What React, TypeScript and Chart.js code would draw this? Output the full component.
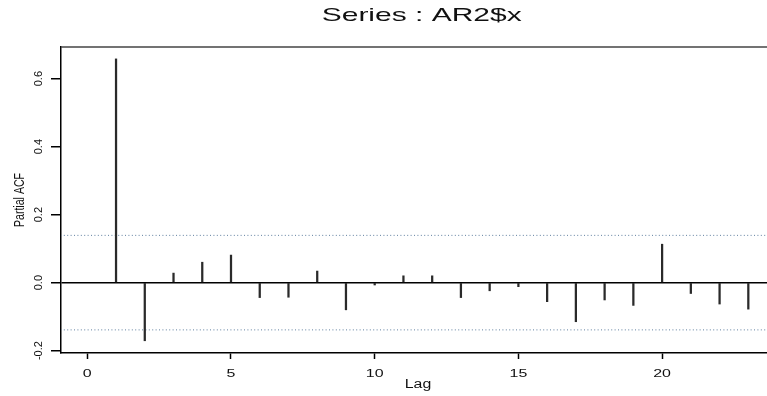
import React, { useEffect, useRef } from "react";
import { Chart, registerables } from "chart.js";

Chart.register(...registerables);

const titleText = "Series : AR2$x";
const xAxisTitle = "Lag";
const yAxisTitle = "Partial ACF";
const lags = [1, 2, 3, 4, 5, 6, 7, 8, 9, 10, 11, 12, 13, 14, 15, 16, 17, 18, 19, 20, 21, 22, 23];
const pacf = [0.658, -0.171, 0.028, 0.06, 0.081, -0.044, -0.043, 0.034, -0.08, -0.007, 0.02, 0.02, -0.044, -0.024, -0.012, -0.056, -0.115, -0.051, -0.067, 0.113, -0.032, -0.063, -0.078];
const ciBound = 0.139;
const xTicks = [0, 5, 10, 15, 20];
const yTicks = [-0.2, 0, 0.2, 0.4, 0.6];
const yTickLabels = ["-0.2", "0.0", "0.2", "0.4", "0.6"];

const FONT = '"Liberation Sans", Arial, Helvetica, sans-serif';

function drawStretched(ctx: CanvasRenderingContext2D, text: string, x: number, y: number, size: number, targetWidth: number | null, sx: number) {
  ctx.save();
  ctx.font = `${size}px ${FONT}`;
  ctx.fillStyle = "#111";
  ctx.textAlign = "center";
  ctx.textBaseline = "alphabetic";
  ctx.translate(x, y);
  let s = sx;
  if (targetWidth) s = targetWidth / ctx.measureText(text).width;
  ctx.scale(s, 1);
  ctx.fillText(text, 0, 0);
  ctx.restore();
}

const textPlugin = {
  id: "rtext",
  afterDraw(chart: any) {
    const ctx = chart.ctx as CanvasRenderingContext2D;
    const area = chart.chartArea;
    const xs = chart.scales.x;
    const ys = chart.scales.y;
    // top frame line
    ctx.save();
    ctx.strokeStyle = "#444";
    ctx.lineWidth = 1.5;
    ctx.beginPath();
    ctx.moveTo(area.left, area.top);
    ctx.lineTo(area.right, area.top);
    ctx.stroke();
    ctx.restore();
    // title
    drawStretched(ctx, titleText, 421.7, 20.7, 18.5, 200, 1);
    // x tick labels
    xTicks.forEach((v) => {
      drawStretched(ctx, String(v), xs.getPixelForValue(v), 376.6, 11, null, 1.45);
    });
    // x axis title
    drawStretched(ctx, xAxisTitle, 418, 387.5, 12.5, 26.5, 1);
    // y tick labels (rotated)
    yTicks.forEach((v, i) => {
      ctx.save();
      ctx.font = `11px ${FONT}`;
      ctx.fillStyle = "#111";
      ctx.textAlign = "center";
      ctx.textBaseline = "alphabetic";
      ctx.translate(41.5, ys.getPixelForValue(v));
      ctx.scale(1.05, 1);
      ctx.rotate(-Math.PI / 2);
      ctx.fillText(yTickLabels[i], 0, 0);
      ctx.restore();
    });
    // y axis title
    ctx.save();
    ctx.font = `10.6px ${FONT}`;
    ctx.fillStyle = "#111";
    ctx.textAlign = "center";
    ctx.textBaseline = "alphabetic";
    ctx.translate(24, (area.top + area.bottom) / 2);
    ctx.scale(1.4, 1);
    ctx.rotate(-Math.PI / 2);
    ctx.fillText(yAxisTitle, 0, 0);
    ctx.restore();
  },
};

export default function App() {
  const ref = useRef<HTMLCanvasElement | null>(null);
  useEffect(() => {
    if (!ref.current) return;
    const chart = new Chart(ref.current, {
      type: "bar",
      data: {
        datasets: [
          {
            type: "bar",
            data: lags.map((l, i) => ({ x: l, y: pacf[i] })),
            backgroundColor: "#2a2a2a",
            borderWidth: 0,
            barThickness: 1.6,
            grouped: false,
          } as any,
          {
            type: "line",
            data: [{ x: -2, y: ciBound }, { x: 30, y: ciBound }],
            borderColor: "#5f7f9f",
            borderWidth: 1,
            borderDash: [1, 2.4],
            pointRadius: 0,
            fill: false,
          } as any,
          {
            type: "line",
            data: [{ x: -2, y: -ciBound }, { x: 30, y: -ciBound }],
            borderColor: "#5f7f9f",
            borderWidth: 1,
            borderDash: [1, 2.4],
            pointRadius: 0,
            fill: false,
          } as any,
        ],
      },
      options: {
        responsive: false,
        animation: false,
        events: [],
        layout: { padding: { top: 47, left: 0, right: 0, bottom: 0 } },
        plugins: { legend: { display: false }, tooltip: { enabled: false }, title: { display: false } },
        scales: {
          x: {
            type: "linear",
            min: -0.915,
            max: 23.65,
            offset: false,
            afterFit: (s: any) => {
              s.height = 43;
            },
            afterBuildTicks: (s: any) => {
              s.ticks = xTicks.map((v) => ({ value: v }));
            },
            ticks: { display: false },
            grid: { offset: false, drawOnChartArea: false, drawTicks: true, tickLength: 6, tickColor: "#000", tickWidth: 1.5 },
            border: { display: true, color: "#000", width: 1.5 },
          },
          y: {
            type: "linear",
            min: -0.207,
            max: 0.693,
            afterFit: (s: any) => {
              s.width = 61;
            },
            afterBuildTicks: (s: any) => {
              s.ticks = yTicks.map((v) => ({ value: v }));
            },
            ticks: { display: false },
            grid: {
              offset: false,
              drawOnChartArea: true,
              drawTicks: true,
              tickLength: 10,
              color: (c: any) => (c.tick && c.tick.value === 0 ? "#000" : "rgba(0,0,0,0)"),
              lineWidth: 1.5,
              tickColor: "#000",
              tickWidth: 1.5,
            },
            border: { display: true, color: "#000", width: 1.5 },
          },
        },
      } as any,
      plugins: [textPlugin],
    });
    return () => chart.destroy();
  }, []);
  return (
    <canvas
      ref={ref}
      width={767}
      height={396}
      style={{ position: "absolute", left: 0, top: 0, display: "block", width: 767, height: 396 }}
    />
  );
}
